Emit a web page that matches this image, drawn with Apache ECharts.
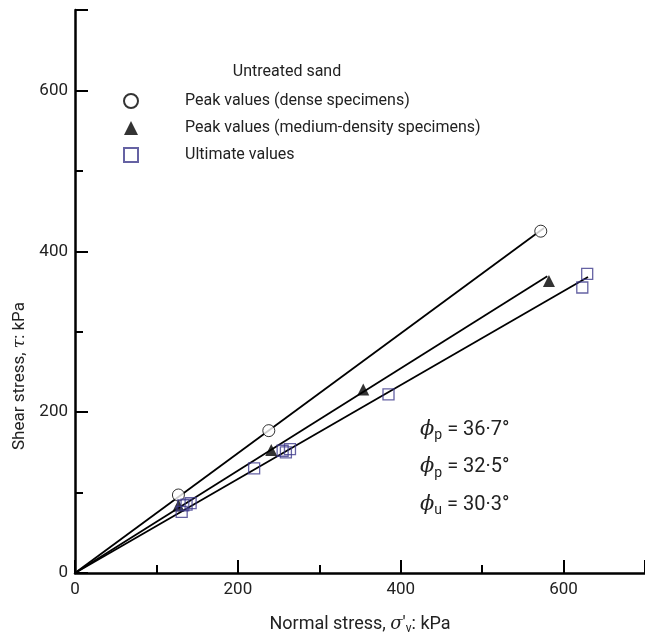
<!DOCTYPE html>
<html>
<head>
<meta charset="utf-8">
<script src="https://cdn.jsdelivr.net/npm/echarts@6/dist/echarts.min.js"></script>
<style>
  html, body { margin: 0; padding: 0; background: #fff; }
  #main { width: 645px; height: 640px; }
</style>
</head>
<body>
<div id="main"></div>
<script>
  // 数据 (kPa)
  const denseData = [[127, 97], [238, 177], [572, 425]];
  const mediumData = [[127, 84], [241, 153], [354, 228], [582, 363]];
  const ultimateData = [[131, 76], [133, 84], [137, 85], [142, 87], [220, 130],
    [255, 152], [259, 150], [264, 154], [385, 222], [623, 355], [629, 372]];
  // 拟合线
  const denseLine = [[0, 0], [576, 429]];
  const mediumLine = [[0, 0], [580, 369]];
  const ultimateLine = [[0, 0], [630, 368]];
  const legendNames = ["Peak values (dense specimens)", "Peak values (medium-density specimens)", "Ultimate values"];
  const phiLabels = [["p", "36·7°"], ["p", "32·5°"], ["u", "30·3°"]];

  const font = "Roboto";
  const textColor = "#222";
  const squareColor = "#3f3b8c";

  let chart = echarts.init(document.getElementById("main"));

  function fitLine(data) {
    return {
      type: "line",
      data: data,
      symbol: "none",
      silent: true,
      lineStyle: { color: "#000", width: 1.8 },
      z: 1
    };
  }

  let phiGraphics = phiLabels.map(function (item, i) {
    return {
      type: "text",
      left: 420,
      top: 419 + i * 37.5,
      style: {
        text: "{phi|ϕ}{sub|" + item[0] + "}{eq| = " + item[1] + "}",
        rich: {
          phi: { fontFamily: "DejaVu Serif", fontStyle: "italic", fontSize: 21, lineHeight: 26, fill: textColor },
          sub: { fontFamily: font, fontSize: 14, lineHeight: 12, verticalAlign: "bottom", fill: textColor },
          eq: { fontFamily: font, fontSize: 20, lineHeight: 26, fill: textColor }
        }
      }
    };
  });

  let option = {
    animation: false,
    backgroundColor: "#fff",
    grid: { left: 75, top: 10, width: 574, height: 568 },
    legend: {
      data: legendNames,
      orient: "vertical",
      left: 118,
      top: 87,
      itemWidth: 14,
      itemHeight: 14,
      itemGap: 9,
      textStyle: { fontFamily: font, fontSize: 16, color: textColor, lineHeight: 18, padding: [0, 0, 0, 42] }
    },
    xAxis: {
      type: "value",
      min: 0,
      max: 700,
      interval: 200,
      name: "{t|Normal stress, }{s|σ}{t|′}{v|v}{t|: kPa}",
      nameLocation: "middle",
      nameGap: 40,
      nameTextStyle: {
        rich: {
          t: { fontFamily: font, fontSize: 18, color: textColor, lineHeight: 22 },
          s: { fontFamily: "DejaVu Serif", fontStyle: "italic", fontSize: 18, color: textColor, lineHeight: 22 },
          v: { fontFamily: font, fontSize: 12, color: textColor, lineHeight: 10, verticalAlign: "bottom" }
        }
      },
      splitLine: { show: false },
      axisLine: { lineStyle: { color: "#000", width: 2.5 } },
      axisTick: { inside: true, length: 13, lineStyle: { color: "#000", width: 2 } },
      minorTick: { show: true, splitNumber: 2, length: 8, lineStyle: { color: "#000", width: 2 } },
      axisLabel: { fontFamily: font, fontSize: 17, color: textColor, margin: 8, showMaxLabel: false }
    },
    yAxis: {
      type: "value",
      min: 0,
      max: 700,
      interval: 200,
      splitLine: { show: false },
      axisLine: { lineStyle: { color: "#000", width: 2.5 } },
      axisTick: { inside: true, length: 13, lineStyle: { color: "#000", width: 2 } },
      minorTick: { show: true, splitNumber: 2, length: 8, lineStyle: { color: "#000", width: 2 } },
      axisLabel: { fontFamily: font, fontSize: 17, color: textColor, margin: 7, showMaxLabel: false }
    },
    graphic: [
      {
        type: "text",
        x: 287,
        y: 72,
        style: { text: "Untreated sand", fontFamily: font, fontSize: 16, fill: textColor, align: "center", verticalAlign: "middle" }
      },
      {
        type: "text",
        x: 20,
        y: 376,
        rotation: Math.PI / 2,
        style: {
          text: "{t|Shear stress, }{s|τ}{t|: kPa}",
          align: "center",
          verticalAlign: "middle",
          rich: {
            t: { fontFamily: font, fontSize: 17, fill: textColor },
            s: { fontFamily: "DejaVu Serif", fontStyle: "italic", fontSize: 17, fill: textColor }
          }
        }
      }
    ].concat(phiGraphics),
    series: [
      fitLine(denseLine),
      fitLine(mediumLine),
      fitLine(ultimateLine),
      {
        name: legendNames[0],
        type: "scatter",
        data: denseData,
        symbol: "circle",
        symbolSize: 12,
        itemStyle: { color: "#fff", borderColor: "#000", borderWidth: 1 },
        z: 3
      },
      {
        name: legendNames[1],
        type: "scatter",
        data: mediumData,
        symbol: "triangle",
        symbolSize: 12,
        itemStyle: { color: "#000" },
        z: 3
      },
      {
        name: legendNames[2],
        type: "scatter",
        data: ultimateData,
        symbol: "rect",
        symbolSize: 11,
        itemStyle: { color: "rgba(255,255,255,0)", borderColor: squareColor, borderWidth: 1.3 },
        z: 4
      }
    ]
  };
  chart.setOption(option);
</script>
</body>
</html>
